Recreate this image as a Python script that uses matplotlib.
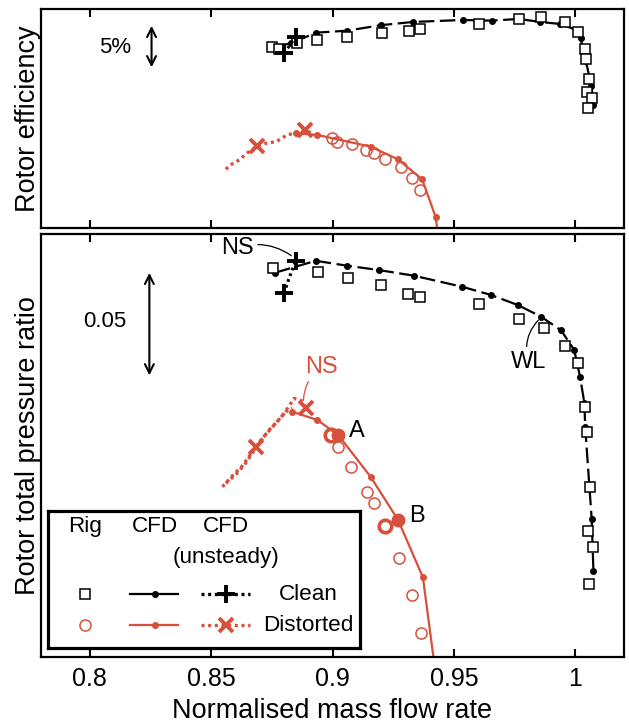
import matplotlib
matplotlib.use("Agg")
import matplotlib.pyplot as plt
from matplotlib.lines import Line2D

plt.rcParams['font.family'] = ['Liberation Sans', 'DejaVu Sans']

RED = '#d6503c'

# ---- top panel: rotor efficiency (%) ----
eff_clean_cfd_x = [0.8760, 0.8828, 0.8932, 0.9060, 0.9198, 0.9331, 0.9536, 0.9655, 0.9766,
                   0.9856, 0.9938, 1.0004, 1.0021, 1.0066, 1.0074]
eff_clean_cfd_y = [90.96, 91.35, 92.48, 92.69, 93.27, 93.62, 93.83, 93.76, 93.94,
                   93.62, 93.40, 92.77, 91.91, 86.81, 84.79]
eff_clean_rig_x = [0.8752, 0.8780, 0.8854, 0.8936, 0.9060, 0.9202, 0.9314, 0.9359, 0.9602, 0.9766,
                   0.9860, 0.9958, 1.0012, 1.0040, 1.0045, 1.0056, 1.0049, 1.0070, 1.0053]
eff_clean_rig_y = [90.99, 90.74, 91.38, 91.70, 92.05, 92.41, 92.69, 92.84, 93.40, 93.94,
                   94.18, 93.62, 92.59, 90.71, 89.65, 87.52, 86.20, 85.50, 84.44]
eff_clean_uns_x = [0.8801, 0.8849]
eff_clean_uns_y = [90.29, 92.05]

eff_dist_cfd_x = [0.8849, 0.8938, 0.9157, 0.9269, 0.9369, 0.9424, 0.9433]
eff_dist_cfd_y = [81.78, 81.60, 80.35, 79.01, 76.88, 72.90, 71.28]
eff_dist_rig_x = [0.8999, 0.9020, 0.9081, 0.9136, 0.9170, 0.9218, 0.9280, 0.9328, 0.9362]
eff_dist_rig_y = [81.24, 80.88, 80.61, 80.00, 79.65, 79.04, 78.16, 76.99, 75.74]
eff_dist_uns_x = [0.8561, 0.8579, 0.8616, 0.8649, 0.8691, 0.8731, 0.8768, 0.8813, 0.8842, 0.8887, 0.8912]
eff_dist_uns_y = [77.95, 78.40, 78.94, 79.68, 80.43, 80.74, 80.88, 81.60, 81.78, 82.13, 81.81]
eff_dist_uns_mark_x = [0.8691, 0.8887]
eff_dist_uns_mark_y = [80.43, 82.13]

# ---- bottom panel: rotor total pressure ratio ----
pr_clean_cfd_x = [0.8764, 0.8931, 0.9061, 0.9191, 0.9335, 0.9533, 0.9652, 0.9763, 0.9859,
                  0.9941, 0.9995, 1.0019, 1.0037, 1.0040, 1.0067, 1.0074]
pr_clean_cfd_y = [1.6321, 1.6376, 1.6353, 1.6333, 1.6307, 1.6256, 1.6218, 1.6171, 1.6117,
                  1.6054, 1.5963, 1.5839, 1.5716, 1.5608, 1.5179, 1.4941]
pr_clean_rig_x = [0.8757, 0.8942, 0.9064, 0.9198, 0.9311, 0.9359, 0.9602, 0.9766, 0.9869,
                  0.9955, 1.0012, 1.0040, 1.0046, 1.0058, 1.0050, 1.0071, 1.0056]
pr_clean_rig_y = [1.6344, 1.6323, 1.6298, 1.6264, 1.6222, 1.6210, 1.6176, 1.6107, 1.6063,
                  1.5981, 1.5901, 1.5700, 1.5585, 1.5327, 1.5126, 1.5052, 1.4878]
pr_clean_uns_x = [0.8801, 0.8821, 0.8849]
pr_clean_uns_y = [1.6225, 1.6296, 1.6376]
pr_clean_uns_mark_x = [0.8801, 0.8849]
pr_clean_uns_mark_y = [1.6225, 1.6376]

pr_dist_cfd_x = [0.8835, 0.8938, 0.9024, 0.9157, 0.9270, 0.9372, 0.9417]
pr_dist_cfd_y = [1.5677, 1.5639, 1.5569, 1.5376, 1.5176, 1.4911, 1.4528]
pr_dist_rig_x = [0.9024, 0.9075, 0.9140, 0.9170, 0.9273, 0.9328, 0.9366]
pr_dist_rig_y = [1.5515, 1.5420, 1.5307, 1.5253, 1.4999, 1.4829, 1.4654]
pr_dist_uns1_x = [0.8547, 0.8587, 0.8628, 0.8685, 0.8739, 0.8793, 0.8842, 0.8875, 0.8890]
pr_dist_uns1_y = [1.5330, 1.5380, 1.5426, 1.5515, 1.5593, 1.5657, 1.5739, 1.5727, 1.5693]
pr_dist_uns2_x = [0.8561, 0.8608, 0.8643, 0.8705, 0.8767, 0.8807, 0.8835]
pr_dist_uns2_y = [1.5346, 1.5394, 1.5440, 1.5546, 1.5625, 1.5677, 1.5693]
pr_dist_uns_mark_x = [0.8685, 0.8890]
pr_dist_uns_mark_y = [1.5515, 1.5693]

# unsteady operating points A and B
point_labels = ['A', 'B']
point_cfd_x = [0.9024, 0.9270]
point_cfd_y = [1.5569, 1.5176]
point_uns_x = [0.8992, 0.9218]
point_uns_y = [1.5569, 1.5148]

x_ticks = [0.8, 0.85, 0.9, 0.95, 1.0]
x_tick_labels = ['0.8', '0.85', '0.9', '0.95', '1']

DASH = (0, (7, 2.5))
DOT = (0, (0.9, 1.1))

fig = plt.figure(figsize=(6.29, 7.24), dpi=100)
ax1 = fig.add_axes([0.0652, 0.6851, 0.9269, 0.3025])
ax2 = fig.add_axes([0.0652, 0.0925, 0.9269, 0.5843])

for ax in (ax1, ax2):
    ax.set_xlim(0.78, 1.02)
    ax.set_xticks(x_ticks)
    ax.set_yticks([])
    ax.tick_params(axis='x', direction='in', top=True, length=6, width=1.5,
                   labelsize=18, pad=7)
    for s in ax.spines.values():
        s.set_linewidth(1.6)

ax1.set_ylim(71.7, 95.0)
ax2.set_ylim(1.4542, 1.65)
ax1.set_xticklabels([])
ax2.set_xticklabels(x_tick_labels)

sq = dict(marker='s', ms=7, mfc='white', mec='black', mew=1.1, ls='none', zorder=3)
ci = dict(marker='o', ms=8, mfc='none', mec=RED, mew=1.1, ls='none', zorder=3)

# top
ax1.plot(eff_clean_cfd_x, eff_clean_cfd_y, color='black', lw=1.6, ls=DASH, marker='o', ms=4, zorder=2)
ax1.plot(eff_clean_rig_x, eff_clean_rig_y, **sq)
ax1.plot(eff_clean_uns_x, eff_clean_uns_y, color='black', lw=2.2, ls=DOT, marker='+', ms=13, mew=2.8, zorder=4)
ax1.plot(eff_dist_cfd_x, eff_dist_cfd_y, color=RED, lw=1.6, marker='o', ms=4, zorder=2)
ax1.plot(eff_dist_rig_x, eff_dist_rig_y, **ci)
ax1.plot(eff_dist_uns_x, eff_dist_uns_y, color=RED, lw=2.4, ls=DOT, zorder=2)
ax1.plot(eff_dist_uns_mark_x, eff_dist_uns_mark_y, color=RED, ls='none', marker='x', ms=10, mew=2.8, zorder=4)

ax1.annotate('', xy=(0.8255, 93.5), xytext=(0.8255, 88.5),
             arrowprops=dict(arrowstyle='<->', lw=1.5, color='black', mutation_scale=16))
ax1.text(0.8107, 90.85, '5%', fontsize=16, ha='center', va='center')

# bottom
ax2.plot(pr_clean_cfd_x, pr_clean_cfd_y, color='black', lw=1.6, ls=DASH, marker='o', ms=4, zorder=2)
ax2.plot(pr_clean_rig_x, pr_clean_rig_y, **sq)
ax2.plot(pr_clean_uns_x, pr_clean_uns_y, color='black', lw=2.2, ls=DOT, zorder=4)
ax2.plot(pr_clean_uns_mark_x, pr_clean_uns_mark_y, color='black', ls='none', marker='+', ms=13, mew=2.8, zorder=4)
ax2.plot(pr_dist_cfd_x, pr_dist_cfd_y, color=RED, lw=1.6, marker='o', ms=4, zorder=2)
ax2.plot(pr_dist_rig_x, pr_dist_rig_y, **ci)
ax2.plot(pr_dist_uns1_x, pr_dist_uns1_y, color=RED, lw=2.4, ls=DOT, zorder=2)
ax2.plot(pr_dist_uns2_x, pr_dist_uns2_y, color=RED, lw=2.4, ls=DOT, zorder=2)
ax2.plot(pr_dist_uns_mark_x, pr_dist_uns_mark_y, color=RED, ls='none', marker='x', ms=10, mew=2.8, zorder=4)

ax2.plot(point_cfd_x, point_cfd_y, color=RED, ls='none', marker='o', ms=9, zorder=5)
ax2.plot(point_uns_x, point_uns_y, color=RED, ls='none', marker='o', ms=9, mfc='none', mew=2.6, zorder=5)
for lab, x, y in zip(point_labels, point_cfd_x, point_cfd_y):
    ax2.text(x + 0.0045, y + 0.002, lab, fontsize=17, ha='left', va='center')

ax2.annotate('', xy=(0.8246, 1.6333), xytext=(0.8246, 1.5833),
             arrowprops=dict(arrowstyle='<->', lw=1.5, color='black', mutation_scale=16))
ax2.text(0.8062, 1.6093, '0.05', fontsize=16, ha='center', va='center')

ax2.annotate('NS', xy=(0.8830, 1.6400), xytext=(0.8608, 1.6435), fontsize=17,
             ha='center', va='center',
             arrowprops=dict(arrowstyle='-', lw=0.9, color='black',
                             connectionstyle='arc3,rad=-0.25', shrinkA=1, shrinkB=0))
ax2.annotate('WL', xy=(0.9855, 1.6110), xytext=(0.9807, 1.5909), fontsize=17,
             ha='center', va='center',
             arrowprops=dict(arrowstyle='-', lw=0.9, color='black',
                             connectionstyle='arc3,rad=-0.3', shrinkA=1, shrinkB=2))
ax2.annotate('NS', xy=(0.8880, 1.5720), xytext=(0.8955, 1.5886), fontsize=17, color=RED,
             ha='center', va='center',
             arrowprops=dict(arrowstyle='-', lw=0.9, color=RED,
                             connectionstyle='arc3,rad=0.25', shrinkA=1, shrinkB=2))

ax2.set_xlabel('Normalised mass flow rate', fontsize=19.5, labelpad=5)
ax1.set_ylabel('Rotor efficiency', fontsize=19.5)
ax2.set_ylabel('Rotor total pressure ratio', fontsize=19.5)
ax1.yaxis.set_label_coords(0.0, 0.5)
ax2.yaxis.set_label_coords(0.0, 0.5)

# legend box (pixel-like coordinates inside the box)
lg = fig.add_axes([48 / 629, 1 - 648 / 724, 312 / 629, 137 / 724])
lg.set_xlim(0, 312)
lg.set_ylim(137, 0)
lg.set_xticks([])
lg.set_yticks([])
lg.set_facecolor('white')
for s in lg.spines.values():
    s.set_linewidth(2.3)

fs = 16.2
lg.text(36.7, 15.3, 'Rig', fontsize=fs, ha='center', va='center')
lg.text(106.7, 15.3, 'CFD', fontsize=fs, ha='center', va='center')
lg.text(178.4, 15.3, 'CFD', fontsize=fs, ha='center', va='center')
lg.text(178.4, 46.6, '(unsteady)', fontsize=fs, ha='center', va='center')
rows = [(83.3, 'black', 's', 'Clean', '+'), (114.3, RED, 'o', 'Distorted', 'x')]
for y, c, rig_m, name, uns_m in rows:
    if rig_m == 's':
        lg.add_line(Line2D([36.7], [y], **sq))
    else:
        lg.add_line(Line2D([36.7], [y], **ci))
    lg.add_line(Line2D([81.7, 130], [y, y], color=c, lw=1.6))
    lg.add_line(Line2D([106.7], [y], color=c, marker='o', ms=4))
    lg.add_line(Line2D([153.4, 201.7], [y, y], color=c, lw=2.4, ls=DOT))
    lg.add_line(Line2D([178.4], [y], color=c, marker=uns_m, ms=13 if uns_m == '+' else 10, mew=2.8))
    lg.text(260, y, name, fontsize=fs, ha='center', va='center')

fig.savefig('out.png', dpi=100)
